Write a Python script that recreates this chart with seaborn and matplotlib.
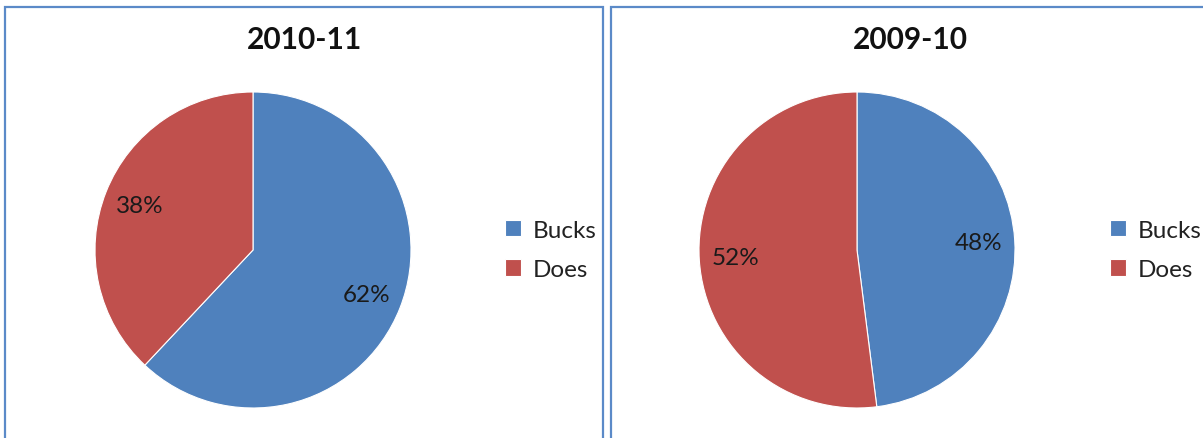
import matplotlib
matplotlib.use("Agg")
import matplotlib.pyplot as plt
import seaborn as sns
from matplotlib.patches import Rectangle

sns.set_theme(style="white")
plt.rcParams['font.family'] = ['Lato', 'DejaVu Sans']

categories = ["Bucks", "Does"]
titles = ["2010-11", "2009-10"]
values_2010_11 = [62, 38]
values_2009_10 = [48, 52]
series = [values_2010_11, values_2009_10]
colors = ["#4F81BD", "#C0504D"]

W, H = 1203, 439
fig = plt.figure(figsize=(W / 100, H / 100), dpi=100)
fig.patch.set_facecolor("white")

def fx(x):
    return x / W

def fy(y):
    return 1 - y / H

border_color = "#5B8AC8"
for (x0, x1) in [(5, 603), (611, 1210)]:
    fig.patches.append(Rectangle((fx(x0), fy(460)), fx(x1) - fx(x0), fy(8) - fy(460),
                                 transform=fig.transFigure, fill=False,
                                 edgecolor=border_color, linewidth=1.6))

centers = [(253, 251), (857, 251)]
r = 158
title_x = [305, 910]
legend_x = [493, 1098]

for i, (vals, title) in enumerate(zip(series, titles)):
    cx, cy = centers[i]
    ax = fig.add_axes([fx(cx - r), fy(cy + r), fx(2 * r), (2 * r) / H])
    wedges, texts, autotexts = ax.pie(
        vals, colors=colors, startangle=90, counterclock=False,
        autopct=lambda p: f"{p:.0f}%", pctdistance=0.77,
        wedgeprops=dict(linewidth=0.8, edgecolor="white"),
        textprops=dict(fontsize=17.5, color="#1a1a1a"))
    ax.set_xlim(-1, 1)
    ax.set_ylim(-1, 1)
    ax.set_aspect("equal")
    ax.axis("off")
    fig.text(fx(title_x[i]), fy(40), title, ha="center", va="center",
             fontsize=21.5, fontweight="bold", color="#111111")
    fig.legend(wedges, categories, loc="center left",
               bbox_to_anchor=(fx(legend_x[i]), fy(251)),
               frameon=False, fontsize=17.5, handlelength=0.65, handleheight=0.65,
               handletextpad=0.5, labelspacing=0.75, borderpad=0,
               labelcolor="#222222")

fig.savefig("out.png", dpi=100, facecolor="white")
